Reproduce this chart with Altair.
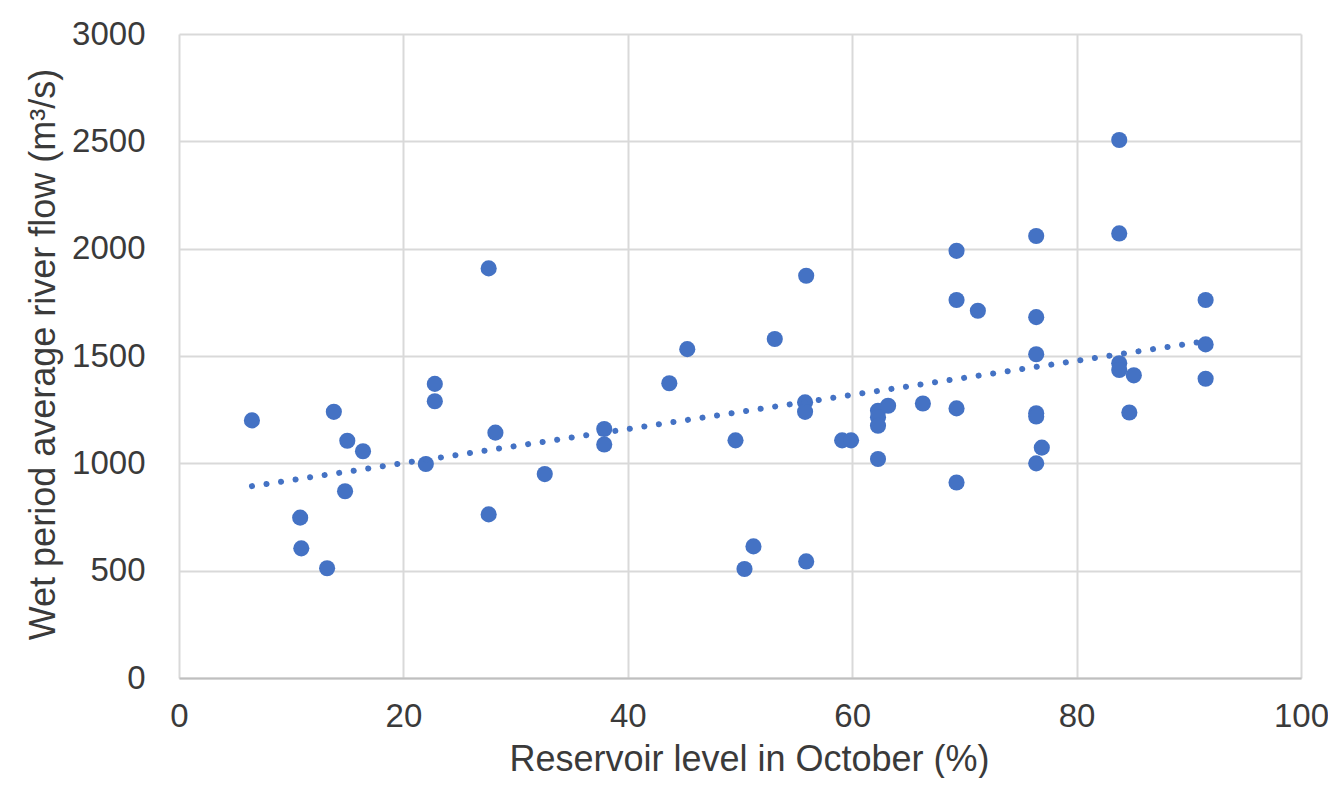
import altair as alt
import pandas as pd

reservoir_pct = [
    6.5, 10.8, 10.9, 13.2, 13.8, 15.0, 14.8, 16.4, 22.0, 22.8,
    22.8, 27.6, 27.6, 28.2, 32.6, 37.9, 37.9, 43.7, 45.3, 49.6,
    50.4, 51.2, 53.1, 55.9, 55.8, 55.8, 55.9, 59.1, 59.9, 62.3,
    62.3, 62.3, 62.3, 63.2, 66.3, 69.3, 69.3, 69.3, 69.3, 71.2,
    76.4, 76.4, 76.4, 76.4, 76.4, 76.9, 76.4, 83.8, 83.8, 83.8,
    83.8, 85.1, 84.7, 91.5, 91.5, 91.5,
]
river_flow = [
    1200, 747, 604, 511, 1240, 1105, 870, 1056, 997, 1370,
    1289, 1908, 762, 1143, 950, 1160, 1088, 1373, 1532, 1107,
    508, 613, 1579, 1874, 1284, 1240, 543, 1107, 1107, 1245,
    1215, 1175, 1020, 1268, 1279, 1990, 1761, 1256, 911, 1711,
    2059, 1681, 1508, 1233, 1218, 1073, 1000, 2506, 2071, 1466,
    1435, 1410, 1237, 1761, 1554, 1394,
]

x_ticks = [0, 20, 40, 60, 80, 100]
y_ticks = [0, 500, 1000, 1500, 2000, 2500, 3000]

df = pd.DataFrame({"level": reservoir_pct, "flow": river_flow})

FONT = "Liberation Sans"
TEXT = "#3a3a3a"
BLUE = "#4472C4"

x_enc = alt.X(
    "level:Q",
    scale=alt.Scale(domain=[0, 100], nice=False, zero=False),
    axis=alt.Axis(
        values=x_ticks,
        format="d",
        title="Reservoir level in October (%)",
        ticks=False,
        labelFlush=False,
        labelPadding=22,
        labelFontSize=33,
        labelColor=TEXT,
        labelFont=FONT,
        titleFont=FONT,
        titleFontSize=36,
        titleFontWeight="normal",
        titleColor=TEXT,
        titleX=570,
        titleY=92,
        titleAlign="center",
        titleBaseline="alphabetic",
        gridColor="#d9d9d9",
        gridWidth=2,
        domainColor="#bfbfbf",
        domainWidth=2,
    ),
)
y_enc = alt.Y(
    "flow:Q",
    scale=alt.Scale(domain=[0, 3000], nice=False),
    axis=alt.Axis(
        values=y_ticks,
        format="d",
        title="Wet period average river flow (m³/s)",
        ticks=False,
        domain=False,
        labelFlush=False,
        labelPadding=34,
        labelFontSize=33,
        labelColor=TEXT,
        labelFont=FONT,
        titleFont=FONT,
        titleFontSize=36,
        titleFontWeight="normal",
        titleColor=TEXT,
        titleAngle=270,
        titleX=-125,
        titleY=320,
        titleAlign="center",
        titleBaseline="alphabetic",
        gridColor="#d9d9d9",
        gridWidth=2,
    ),
)

points = alt.Chart(df).mark_point(
    filled=True, shape="circle", size=260, color=BLUE, opacity=1
).encode(x=x_enc, y=y_enc)

trend = alt.Chart(df).transform_regression(
    "level", "flow", method="linear"
).mark_line(
    color=BLUE, strokeWidth=6, strokeCap="round", strokeDash=[0.1, 14.6]
).encode(x=x_enc, y=y_enc)

chart = (
    alt.layer(points, trend)
    .properties(
        width=1122,
        height=644,
        autosize=alt.AutoSizeParams(type="none"),
        padding={"left": 171, "top": 26, "right": 27, "bottom": 100},
        background="white",
    )
    .configure_view(stroke=None)
)

chart.save("out.html", embed_options={"renderer": "svg", "actions": False})
